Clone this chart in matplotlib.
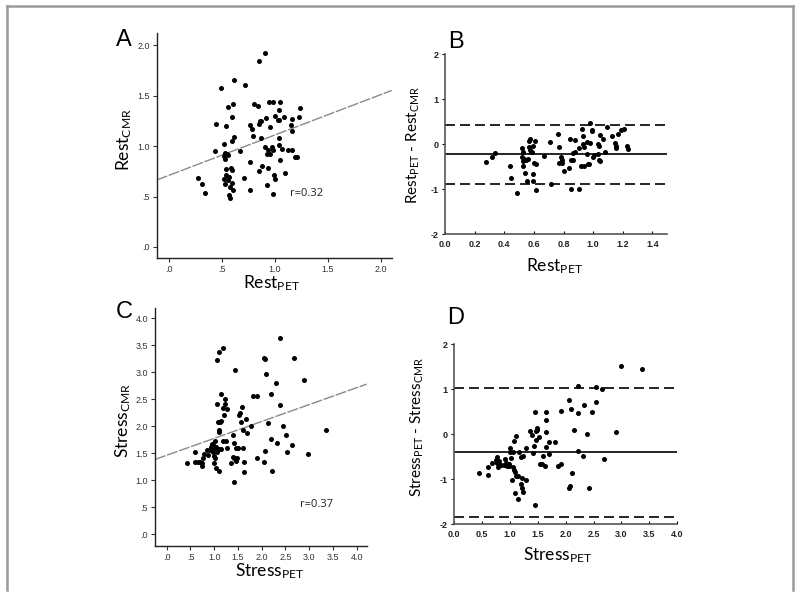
import matplotlib
matplotlib.use("Agg")
import matplotlib.pyplot as plt
from matplotlib.lines import Line2D
import numpy as np

plt.rcParams['font.family'] = ['Lato', 'DejaVu Sans']
plt.rcParams['mathtext.default'] = 'regular'

# ---------------- Data ----------------
# Panel A: Rest PET vs Rest CMR
rest_pet_A = [0.904, 0.844, 0.617, 0.715, 0.488, 0.605, 0.561, 0.806, 0.835, 0.939,
              0.98, 1.049, 1.231, 1.036, 0.598, 0.913, 0.998, 1.03, 1.083, 1.04,
              1.228, 1.156, 0.854, 0.872, 0.447, 0.535, 0.768, 0.85, 0.957, 1.146,
              0.784, 0.79, 1.156, 0.617, 0.869, 0.598, 1.036, 0.52, 0.438, 0.668,
              0.532, 0.545, 0.561, 0.517, 0.532, 0.904, 0.973, 0.932, 0.98, 1.036,
              1.065, 1.121, 1.162, 0.923, 0.957, 1.187, 1.209, 1.046, 0.768, 0.879,
              0.935, 0.539, 0.583, 0.592, 0.847, 1.096, 0.535, 0.989, 0.517, 0.564,
              0.709, 0.998, 0.561, 0.526, 0.598, 0.926, 0.573, 0.608, 0.768, 0.976,
              0.564, 0.573, 0.277, 0.315, 0.337]
rest_cmr_A = [1.917, 1.845, 1.653, 1.607, 1.578, 1.416, 1.383, 1.416, 1.399, 1.439,
              1.439, 1.439, 1.376, 1.36, 1.287, 1.277, 1.297, 1.26, 1.284, 1.26,
              1.287, 1.27, 1.248, 1.248, 1.218, 1.198, 1.211, 1.218, 1.188, 1.211,
              1.168, 1.102, 1.148, 1.089, 1.076, 1.05, 1.076, 1.016, 0.947, 0.947,
              0.934, 0.921, 0.914, 0.904, 0.875, 0.993, 0.993, 0.96, 0.964, 1.01,
              0.974, 0.957, 0.957, 0.917, 0.917, 0.891, 0.891, 0.858, 0.842, 0.799,
              0.779, 0.769, 0.779, 0.759, 0.749, 0.729, 0.713, 0.71, 0.677, 0.69,
              0.68, 0.67, 0.66, 0.624, 0.637, 0.611, 0.597, 0.561, 0.561, 0.525,
              0.512, 0.482, 0.68, 0.62, 0.538]
fit_A = [0.71, 0.40]          # intercept, slope
r_A = "r=0.32"

# Panel B: Bland-Altman, rest
rest_pet_B = [0.276, 0.316, 0.338, 0.437, 0.448, 0.486, 0.52, 0.526, 0.522, 0.533,
              0.526, 0.526, 0.54, 0.547, 0.556, 0.558, 0.565, 0.569, 0.576, 0.576,
              0.58, 0.585, 0.591, 0.594, 0.596, 0.598, 0.605, 0.614, 0.616, 0.668,
              0.71, 0.717, 0.764, 0.766, 0.766, 0.784, 0.789, 0.804, 0.79, 0.84,
              0.845, 0.847, 0.851, 0.862, 0.867, 0.878, 0.876, 0.907, 0.905, 0.918,
              0.923, 0.932, 0.93, 0.936, 0.941, 0.956, 0.956, 0.968, 0.972, 0.977,
              0.981, 0.99, 0.995, 0.997, 1.008, 1.03, 1.033, 1.037, 1.042, 1.046,
              1.049, 1.063, 1.082, 1.095, 1.124, 1.147, 1.152, 1.156, 1.165, 1.185,
              1.205, 1.228, 1.237]
rest_diff_B = [-0.385, -0.274, -0.185, -0.489, -0.748, -1.074, -0.074, -0.17, -0.274, -0.333,
               -0.378, -0.474, -0.637, -0.348, -0.815, -0.319, -0.067, 0.074, 0.126, -0.126,
               -0.17, -0.163, -0.03, -0.807, -0.667, -0.422, 0.067, -0.444, -1.022, -0.267,
               0.044, -0.874, 0.23, -0.052, -0.422, -0.281, -0.348, -0.593, -0.407, -0.533,
               0.126, -0.985, -0.348, -0.185, -0.348, 0.096, -0.17, -0.074, -0.993, -0.474,
               0.341, 0.178, 0.015, -0.489, -0.052, -0.207, 0.059, -0.444, -0.444, 0.474,
               0.022, 0.304, 0.326, -0.281, -0.237, 0.015, -0.207, -0.044, -0.341, 0.2,
               -0.378, 0.126, -0.17, 0.393, 0.185, 0.022, -0.037, -0.081, 0.23, 0.319,
               0.341, -0.03, -0.111]
limits_B = [0.437, -0.222, -0.881]   # upper LoA, mean, lower LoA

# Panel C: Stress PET vs Stress CMR
stress_pet_C = [0.435, 0.596, 0.604, 0.653, 0.702, 0.737, 0.751, 0.786, 0.772, 0.842,
                0.877, 0.912, 0.933, 0.954, 0.968, 0.947, 0.968, 0.989, 1.011, 0.996,
                1.025, 1.046, 1.046, 1.025, 1.053, 1.06, 1.067, 1.081, 1.095, 1.095,
                1.102, 1.109, 1.095, 1.123, 1.137, 1.137, 1.144, 1.186, 1.193, 1.193,
                1.207, 1.221, 1.228, 1.242, 1.263, 1.263, 1.361, 1.389, 1.396, 1.411,
                1.418, 1.425, 1.439, 1.453, 1.467, 1.474, 1.495, 1.516, 1.544, 1.593,
                1.572, 1.6, 1.614, 1.628, 1.628, 1.663, 1.684, 1.782, 1.825, 1.895,
                1.895, 2.042, 2.077, 2.056, 2.077, 2.098, 2.133, 2.203, 2.203, 2.218,
                2.295, 2.323, 2.393, 2.379, 2.449, 2.519, 2.533, 2.639, 2.674, 2.884,
                2.975, 3.361]
stress_cmr_C = [1.311, 1.521, 1.342, 1.342, 1.342, 1.311, 1.261, 1.49, 1.403, 1.558,
                1.459, 1.552, 1.62, 1.669, 1.645, 1.552, 1.527, 1.44, 1.403, 1.317,
                1.558, 1.224, 1.62, 1.725, 1.527, 3.233, 2.405, 2.083, 1.892, 1.57,
                1.162, 3.382, 1.929, 2.083, 1.576, 2.603, 2.096, 3.444, 2.343, 1.725,
                2.201, 2.504, 2.405, 1.725, 1.595, 2.312, 1.311, 1.422, 1.836, 1.403,
                1.694, 0.958, 3.048, 1.595, 1.348, 1.416, 1.595, 2.207, 2.238, 2.349,
                2.083, 1.923, 1.589, 1.342, 1.156, 2.133, 1.873, 1.997, 2.566, 2.566,
                1.416, 3.264, 3.24, 1.329, 1.533, 2.974, 2.059, 2.597, 1.762, 1.168,
                2.807, 1.694, 3.641, 2.393, 1.997, 1.836, 1.515, 1.657, 3.258, 2.862,
                1.49, 1.935]
fit_C = [1.462, 0.3135]
r_C = "r=0.37"

# Panel D: Bland-Altman, stress
stress_pet_D = [0.449, 0.611, 0.611, 0.683, 0.749, 0.766, 0.766, 0.79, 0.802, 0.844,
                0.898, 0.91, 0.928, 0.946, 0.982, 0.988, 1.012, 1.012, 1.024, 1.036,
                1.048, 1.06, 1.066, 1.078, 1.084, 1.096, 1.114, 1.114, 1.144, 1.144,
                1.156, 1.198, 1.21, 1.204, 1.222, 1.234, 1.24, 1.281, 1.287, 1.359,
                1.389, 1.407, 1.431, 1.443, 1.449, 1.467, 1.473, 1.485, 1.491, 1.521,
                1.533, 1.569, 1.599, 1.623, 1.641, 1.647, 1.641, 1.641, 1.701, 1.695,
                1.802, 1.856, 1.91, 1.916, 2.066, 2.066, 2.09, 2.084, 2.114, 2.15,
                2.222, 2.222, 2.228, 2.305, 2.329, 2.389, 2.419, 2.467, 2.539, 2.551,
                2.659, 2.689, 2.898, 2.994, 3.371]
stress_diff_D = [-0.859, -0.726, -0.896, -0.644, -0.57, -0.496, -0.644, -0.726, -0.585, -0.681,
                 -0.681, -0.556, -0.63, -0.711, -0.667, -0.711, -0.296, -0.393, -0.526, -1.007,
                 -0.393, -0.719, -0.148, -0.785, -1.304, -0.83, -0.03, -0.926, -1.437, -0.926,
                 -0.4, -0.511, -0.978, -1.111, -1.185, -1.274, -0.489, -0.296, -1.015, 0.074,
                 -0.015, -0.407, -0.252, 0.504, -1.57, -0.126, 0.074, 0.148, 0.089, -0.059,
                 -0.667, -0.667, -0.481, -0.704, 0.504, 0.311, 0.059, -0.281, -0.163, -0.444,
                 -0.17, -0.711, -0.652, 0.519, 0.756, -1.2, 0.563, -1.156, -0.867, 0.104,
                 0.481, -0.37, 1.081, -0.489, 0.652, 0.015, -1.2, 0.489, 0.719, 1.059,
                 1.015, -0.548, 0.059, 1.519, 1.444]
limits_D = [1.037, -0.40, -1.83]

ticks_A = [0, 0.5, 1.0, 1.5, 2.0]
ticklabels_A = [".0", ".5", "1.0", "1.5", "2.0"]
ticks_C = [0, 0.5, 1.0, 1.5, 2.0, 2.5, 3.0, 3.5, 4.0]
ticklabels_C = [".0", ".5", "1.0", "1.5", "2.0", "2.5", "3.0", "3.5", "4.0"]
xticks_B = [0.0, 0.2, 0.4, 0.6, 0.8, 1.0, 1.2, 1.4]
xticklabels_B = ["0.0", "0.2", "0.4", "0.6", "0.8", "1.0", "1.2", "1.4"]
xticks_D = [0.0, 0.5, 1.0, 1.5, 2.0, 2.5, 3.0, 3.5, 4.0]
xticklabels_D = ["0.0", "0.5", "1.0", "1.5", "2.0", "2.5", "3.0", "3.5", "4.0"]
yticks_BD = [-2, -1, 0, 1, 2]
yticklabels_BD = ["-2", "-1", "0", "1", "2"]

# ---------------- Figure ----------------
W, H = 800, 595
fig = plt.figure(figsize=(8, 5.95), dpi=100)
SANS = ['Liberation Sans', 'DejaVu Sans']


def ax_px(l, t, r, b):
    return fig.add_axes([l / W, 1 - b / H, (r - l) / W, (b - t) / H])


def fx(x):
    return x / W


def fy(y):
    return 1 - y / H


def style_scatter_axes(ax, ticks, labels, xlim, ylim):
    ax.set_xlim(*xlim)
    ax.set_ylim(*ylim)
    for s in ['top', 'right']:
        ax.spines[s].set_visible(False)
    for s in ['left', 'bottom']:
        ax.spines[s].set_linewidth(1.0)
        ax.spines[s].set_color('#222222')
    ax.set_xticks(ticks)
    ax.set_xticklabels(labels)
    ax.set_yticks(ticks)
    ax.set_yticklabels(labels)
    ax.tick_params(direction='out', length=3, width=0.8, labelsize=6.5,
                   colors='#333333', pad=2)
    for lab in ax.get_xticklabels() + ax.get_yticklabels():
        lab.set_fontfamily(SANS)
    ax.patch.set_alpha(0)


def style_ba_axes(ax, xticks, xlabels, xlim):
    ax.set_xlim(*xlim)
    ax.set_ylim(-2, 2)
    for s in ['top', 'right']:
        ax.spines[s].set_visible(False)
    for s in ['left', 'bottom']:
        ax.spines[s].set_linewidth(1.2)
        ax.spines[s].set_color('#555555')
    ax.set_xticks(xticks)
    ax.set_xticklabels(xlabels)
    ax.set_yticks(yticks_BD)
    ax.set_yticklabels(yticklabels_BD)
    ax.tick_params(axis='x', direction='in', length=2.5, width=0.8, pad=4)
    ax.tick_params(axis='y', direction='out', length=2.5, width=0.8, pad=2)
    for lab in ax.get_xticklabels() + ax.get_yticklabels():
        lab.set_fontfamily(SANS)
        lab.set_fontweight('bold')
        lab.set_fontsize(6.5)
        lab.set_color('#222222')
    ax.patch.set_alpha(0)


dot = dict(s=13, color='black', linewidths=0, zorder=3)
label_fs = 12.5

# Panel A
axA = ax_px(156.7, 33.3, 391.7, 257.7)
style_scatter_axes(axA, ticks_A, ticklabels_A, (-0.116, 2.1), (-0.106, 2.116))
axA.scatter(rest_pet_A, rest_cmr_A, **dot)
xl = np.array(axA.get_xlim())
axA.plot(xl, fit_A[0] + fit_A[1] * xl, color='#8a8a8a', lw=1.0,
         linestyle=(0, (8, 1.2)), zorder=2)
axA.text(1.3, 0.53, r_A, fontsize=8, ha='center', va='center', color='#222222',
         family=['Open Sans', 'DejaVu Sans'])

# Panel B
axB = ax_px(445, 54.3, 667.3, 234.3)
style_ba_axes(axB, xticks_B, xticklabels_B, (0, 1.5))
axB.scatter(rest_pet_B, rest_diff_B, **dot)
axB.axhline(limits_B[1], color='black', lw=1.2, zorder=2)
for v in (limits_B[0], limits_B[2]):
    axB.axhline(v, color='black', lw=1.2, linestyle=(0, (6, 3)), zorder=2)

# Panel C
axC = ax_px(155, 307.7, 366.7, 545.7)
style_scatter_axes(axC, ticks_C, ticklabels_C, (-0.246, 4.21), (-0.216, 4.2))
axC.scatter(stress_pet_C, stress_cmr_C, **dot)
xl = np.array(axC.get_xlim())
axC.plot(xl, fit_C[0] + fit_C[1] * xl, color='#8a8a8a', lw=1.0,
         linestyle=(0, (8, 1.2)), zorder=2)
axC.text(3.15, 0.55, r_C, fontsize=8, ha='center', va='center', color='#222222',
         family=['Open Sans', 'DejaVu Sans'])

# Panel D
axD = ax_px(454, 344.3, 677.3, 524.3)
style_ba_axes(axD, xticks_D, xticklabels_D, (0, 4.0))
axD.scatter(stress_pet_D, stress_diff_D, **dot)
axD.axhline(limits_D[1], color='black', lw=1.2, zorder=2)
for v in (limits_D[0], limits_D[2]):
    axD.axhline(v, color='black', lw=1.2, linestyle=(0, (6, 3)), zorder=2)

# Axis labels
fig.text(fx(272), fy(283), r'Rest$_{PET}$', fontsize=label_fs, ha='center', va='center')
fig.text(fx(124), fy(140), r'Rest$_{CMR}$', fontsize=label_fs, ha='center', va='center', rotation=90)
fig.text(fx(555), fy(266), r'Rest$_{PET}$', fontsize=label_fs, ha='center', va='center')
fig.text(fx(413), fy(145), r'Rest$_{PET}$ - Rest$_{CMR}$', fontsize=label_fs - 1.5, ha='center', va='center', rotation=90)
fig.text(fx(270), fy(571), r'Stress$_{PET}$', fontsize=label_fs, ha='center', va='center')
fig.text(fx(123), fy(420), r'Stress$_{CMR}$', fontsize=label_fs, ha='center', va='center', rotation=90)
fig.text(fx(558), fy(555), r'Stress$_{PET}$', fontsize=label_fs, ha='center', va='center')
fig.text(fx(417), fy(427), r'Stress$_{PET}$ - Stress$_{CMR}$', fontsize=label_fs - 1.5, ha='center', va='center', rotation=90)

# Panel letters
for letter, (x, y) in zip("ABCD", [(124, 40), (456, 42), (124, 312), (456, 318)]):
    fig.text(fx(x), fy(y), letter, fontsize=17, ha='center', va='center', family=SANS)

# Frame lines
frame_col = '#9a9a9a'
fig.add_artist(Line2D([fx(6.5), fx(793)], [fy(6), fy(6)], color=frame_col, lw=1.8))
fig.add_artist(Line2D([fx(6.5), fx(6.5)], [fy(6), fy(590)], color=frame_col, lw=1.8))
fig.add_artist(Line2D([fx(793), fx(793)], [fy(6), fy(590)], color=frame_col, lw=1.8))

fig.savefig("out.png", dpi=100)
